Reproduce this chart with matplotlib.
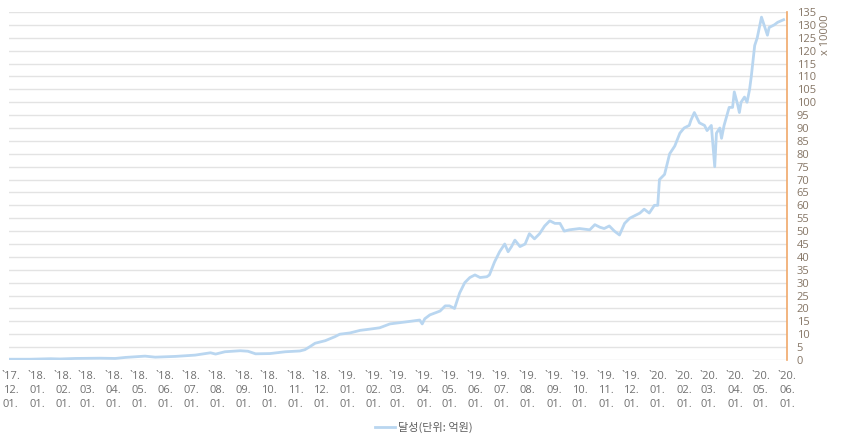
import matplotlib
matplotlib.use("Agg")
import matplotlib.pyplot as plt
import pandas as pd

plt.rcParams['font.family'] = ['Open Sans', 'Noto Sans CJK KR', 'DejaVu Sans']

dates = [
    "2017-11-29", "2017-12-24", "2018-01-17", "2018-01-28", "2018-02-15", "2018-03-16",
    "2018-04-03", "2018-04-15", "2018-05-08", "2018-05-20", "2018-06-13", "2018-07-06",
    "2018-07-24", "2018-07-30", "2018-08-10", "2018-08-28", "2018-09-06", "2018-09-15",
    "2018-10-02", "2018-10-20", "2018-11-06", "2018-11-12", "2018-11-18", "2018-11-24",
    "2018-12-06", "2018-12-17", "2018-12-23", "2019-01-04", "2019-01-16", "2019-01-28",
    "2019-02-08", "2019-02-20", "2019-03-04", "2019-03-16", "2019-03-27", "2019-03-30",
    "2019-04-02", "2019-04-08", "2019-04-20", "2019-04-26", "2019-05-01", "2019-05-07",
    "2019-05-13", "2019-05-19", "2019-05-25", "2019-05-31", "2019-06-06", "2019-06-14",
    "2019-06-17", "2019-06-23", "2019-06-29", "2019-07-05", "2019-07-09", "2019-07-13",
    "2019-07-17", "2019-07-23", "2019-07-29", "2019-08-03", "2019-08-09", "2019-08-15",
    "2019-08-21", "2019-08-27", "2019-09-02", "2019-09-08", "2019-09-13", "2019-09-19",
    "2019-10-01", "2019-10-13", "2019-10-19", "2019-10-25", "2019-10-30", "2019-11-05",
    "2019-11-11", "2019-11-17", "2019-11-23", "2019-11-29", "2019-12-05", "2019-12-11",
    "2019-12-16", "2019-12-22", "2019-12-28", "2020-01-01", "2020-01-03", "2020-01-09",
    "2020-01-15", "2020-01-21", "2020-01-27", "2020-02-01", "2020-02-07", "2020-02-09",
    "2020-02-13", "2020-02-19", "2020-02-25", "2020-02-28", "2020-03-04", "2020-03-08",
    "2020-03-10", "2020-03-14", "2020-03-16", "2020-03-19", "2020-03-25", "2020-03-29",
    "2020-03-31", "2020-04-04", "2020-04-06", "2020-04-08", "2020-04-12", "2020-04-15",
    "2020-04-18", "2020-04-20", "2020-04-24", "2020-04-27", "2020-05-02", "2020-05-05",
    "2020-05-09", "2020-05-11", "2020-05-17", "2020-05-21", "2020-05-28",
]
values = [
    0.3, 0.3, 0.5, 0.4, 0.6, 0.7,
    0.6, 1.0, 1.5, 1.1, 1.4, 1.9,
    2.8, 2.3, 3.2, 3.6, 3.4, 2.4,
    2.5, 3.2, 3.5, 4.0, 5.2, 6.5,
    7.5, 9.0, 10.0, 10.5, 11.5, 12.0,
    12.5, 14.0, 14.5, 15.0, 15.5, 14.0,
    16.0, 17.5, 19.0, 21.0, 21.0, 20.0,
    26.0, 30.0, 32.0, 33.0, 32.0, 32.3,
    33.0, 38.0, 42.0, 45.0, 42.0, 44.0,
    46.5, 44.0, 45.0, 49.0, 47.0, 49.0,
    52.0, 54.0, 53.0, 53.0, 50.0, 50.5,
    51.0, 50.5, 52.5, 51.5, 51.0, 52.0,
    50.0, 48.5, 53.0, 55.0, 56.0, 57.0,
    58.5, 57.0, 60.0, 60.0, 70.0, 72.0,
    80.0, 83.0, 88.0, 90.0, 91.0, 93.0,
    96.0, 92.0, 91.0, 89.0, 91.0, 75.0,
    88.0, 90.0, 86.0, 91.0, 98.0, 98.0,
    104.0, 99.0, 96.0, 100.0, 102.0, 100.0,
    105.0, 110.0, 122.0, 125.0, 133.0, 130.0,
    126.0, 129.0, 130.0, 131.0, 132.0,
]
tick_dates = pd.date_range("2017-12-01", "2020-06-01", freq="MS")
tick_labels = [f"`{d.strftime('%y')}.\n{d.strftime('%m')}.\n01." for d in tick_dates]
y_ticks = list(range(0, 136, 5))
series_name = "달성(단위: 억원)"
unit_label = "x 10000"

x = pd.to_datetime(dates)

fig = plt.figure(figsize=(8.44, 4.41), dpi=100)
ax = fig.add_axes([9/844, 81/441, 778/844, 348/441])

ax.plot(x, values, color="#b9d6f0", linewidth=2.0, label=series_name, zorder=3)

ax.set_xlim(pd.Timestamp("2017-11-29"), pd.Timestamp("2020-06-01"))
ax.set_ylim(0, 135)

ax.yaxis.tick_right()
ax.set_yticks(y_ticks)
ax.set_yticklabels([str(v) for v in y_ticks], fontsize=8, color="#857565")
ax.tick_params(axis='y', length=0, pad=7)
ax.grid(axis='y', color="#e3e3e3", linewidth=1.0, zorder=0)

ax.set_xticks(tick_dates)
ax.set_xticklabels(tick_labels, fontsize=8, color="#707070", linespacing=1.35)
ax.tick_params(axis='x', length=0, pad=8)

for s in ['top', 'left', 'bottom']:
    ax.spines[s].set_visible(False)
ax.spines['right'].set_color("#f0a86a")
ax.spines['right'].set_linewidth(1.2)

fig.text(826/844, 1 - 35/441, unit_label, rotation=90, ha='center', va='center',
         fontsize=8, color="#857565")

fig.legend(loc='center', bbox_to_anchor=(424/844, 1 - 427/441), frameon=False,
           fontsize=8, handlelength=1.8, handletextpad=0.3, labelcolor="#606060",
           prop={'family': ['Noto Sans CJK KR', 'DejaVu Sans'], 'size': 8})

fig.savefig("out.png", dpi=100)
